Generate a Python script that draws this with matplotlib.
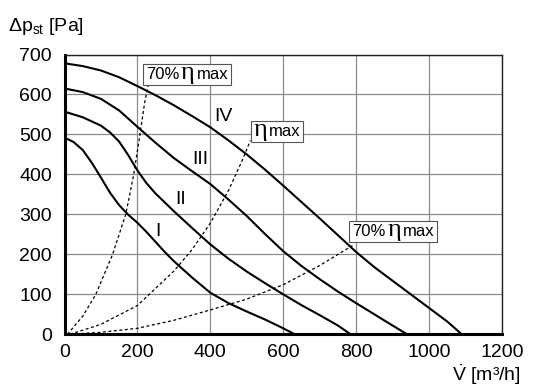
import matplotlib
matplotlib.use("Agg")
import matplotlib.pyplot as plt
from matplotlib.offsetbox import TextArea, HPacker, DrawingArea, AnnotationBbox
from matplotlib.text import Text

plt.rcParams["font.family"] = ["Liberation Sans Narrow", "Liberation Sans", "DejaVu Sans"]
plt.rcParams["mathtext.fontset"] = "custom"
plt.rcParams["mathtext.rm"] = "Liberation Sans"

# fan curves: flow [m3/h] vs static pressure [Pa]
flow_I = [0, 25, 50, 75, 100, 125, 150, 175, 200, 225, 250, 275, 300, 350, 400, 450, 500, 550, 600, 632]
dp_I = [492, 481, 461, 429, 392, 354, 323, 299, 279, 256, 231, 206, 183, 142, 104, 78, 57, 37, 15, 0]

flow_II = [0, 50, 100, 125, 150, 175, 200, 225, 250, 300, 350, 400, 450, 500, 550, 600, 650, 700, 750, 785]
dp_II = [557, 543, 522, 505, 482, 448, 410, 378, 352, 308, 266, 225, 189, 157, 128, 100, 73, 48, 22, 0]

flow_III = [0, 50, 100, 150, 200, 250, 300, 350, 400, 450, 500, 550, 600, 650, 700, 750, 800, 850, 900, 940]
dp_III = [615, 606, 589, 560, 519, 479, 441, 408, 376, 337, 296, 251, 208, 171, 138, 107, 78, 50, 22, 0]

flow_IV = [0, 50, 100, 150, 200, 250, 300, 350, 400, 450, 500, 550, 600, 650, 700, 750, 800,
           850, 900, 950, 1000, 1050, 1090]
dp_IV = [678, 671, 660, 643, 621, 598, 573, 546, 518, 485, 450, 412, 372, 331, 290, 248, 206,
         168, 134, 100, 66, 32, 0]

# efficiency lines (dashed)
flow_70_low = [8, 50, 86, 132, 168, 190, 207, 220, 230]
dp_70_low = [0, 45, 100, 200, 300, 400, 500, 580, 625]

flow_eta = [15, 100, 200, 300, 350, 400, 450, 490, 510]
dp_eta = [0, 25, 72, 158, 212, 278, 360, 440, 485]

flow_70_high = [15, 100, 200, 300, 400, 500, 600, 700, 790]
dp_70_high = [0, 5, 15, 35, 61, 88, 124, 172, 222]

curve_names = ["I", "II", "III", "IV"]
x_ticks = [0, 200, 400, 600, 800, 1000, 1200]
y_ticks = [0, 100, 200, 300, 400, 500, 600, 700]

W, H = 536, 390
fig = plt.figure(figsize=(W / 100, H / 100), dpi=100)
ax = fig.add_axes([64.5 / W, (H - 334.3) / H, (501.9 - 64.5) / W, (334.3 - 54.5) / H])

curves = [(flow_I, dp_I), (flow_II, dp_II), (flow_III, dp_III), (flow_IV, dp_IV)]
for fx, fy in curves:
    ax.plot(fx, fy, color="black", lw=1.5, solid_capstyle="butt", solid_joinstyle="round")

for fx, fy in [(flow_70_low, dp_70_low), (flow_eta, dp_eta), (flow_70_high, dp_70_high)]:
    ax.plot(fx, fy, color="black", lw=0.9, dashes=(2.4, 2.0))

name_pos = [(256, 256), (318, 336), (373, 437), (436, 546)]
for name, (px, py) in zip(curve_names, name_pos):
    ax.text(px, py, name, ha="center", va="center", fontsize=14)


def eta_label(xy, prefix):
    kids = []
    if prefix:
        kids.append(TextArea(prefix, textprops=dict(size=12)))
    da = DrawingArea(10, 9, clip=False)
    da.add_artist(Text(5, 0, "η", ha="center", va="baseline", fontsize=19,
                       family="Liberation Serif"))
    kids.append(da)
    kids.append(TextArea("max", textprops=dict(size=12)))
    pack = HPacker(children=kids, align="baseline", pad=0, sep=1.2)
    ab = AnnotationBbox(pack, xy, xycoords="data", frameon=True, pad=0.2,
                        box_alignment=(0.5, 0.5),
                        bboxprops=dict(edgecolor="#555555", lw=0.8, facecolor="white"))
    ax.add_artist(ab)


eta_label((336, 650), "70%")
eta_label((583, 508), "")
eta_label((902, 257), "70%")

ax.set_xlim(0, 1200)
ax.set_ylim(0, 700)
ax.set_xticks(x_ticks)
ax.set_yticks(y_ticks)
ax.tick_params(length=0, labelsize=14)
ax.tick_params(axis="y", pad=9)
ax.tick_params(axis="x", pad=7)
ax.grid(color="#8c8c8c", lw=0.9)
ax.set_axisbelow(True)
for side in ["left", "bottom"]:
    ax.spines[side].set_linewidth(2.2)
for side in ["top", "right"]:
    ax.spines[side].set_linewidth(1.0)
    ax.spines[side].set_color("#222222")

fig.text(8 / W, 1 - 31 / H, "Δp$\\mathregular{_{st}}$ [Pa]", fontsize=14, va="baseline")
fig.text(521 / W, 1 - 381 / H, "$\\mathregular{\\dot{V}}$ [m³/h]", fontsize=14,
         ha="right", va="baseline")

fig.savefig("out.png", dpi=100)
